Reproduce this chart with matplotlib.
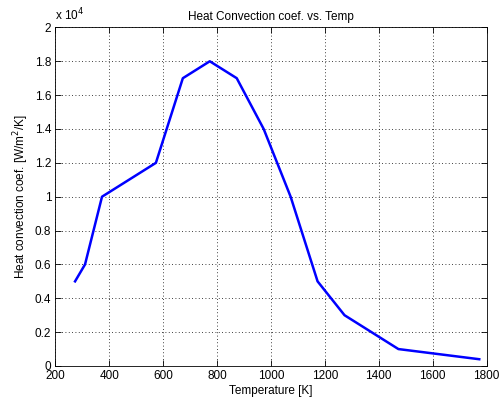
import matplotlib
matplotlib.use("Agg")
import matplotlib.pyplot as plt
import numpy as np

temperature = [273, 310, 373, 573, 673, 773, 873, 973, 1073, 1173, 1273, 1473, 1773]
h_conv = [5000, 6000, 10000, 12000, 17000, 18000, 17000, 14000, 10000, 5000, 3000, 1000, 400]
xticks = [200, 400, 600, 800, 1000, 1200, 1400, 1600, 1800]
yticks = [0, 0.2, 0.4, 0.6, 0.8, 1, 1.2, 1.4, 1.6, 1.8, 2]
ytick_labels = ['0', '0.2', '0.4', '0.6', '0.8', '1', '1.2', '1.4', '1.6', '1.8', '2']

plt.rcParams['font.family'] = ['Liberation Sans', 'DejaVu Sans']
fig = plt.figure(figsize=(4.99, 4.05), dpi=100)
ax = fig.add_axes([0.111, 0.0963, 0.864, 0.836])
ax.plot(temperature, np.array(h_conv) / 1e4, color='#0000ff', lw=1.8)
ax.set_xlim(200, 1800)
ax.set_ylim(0, 2)
ax.set_xticks(xticks)
ax.set_yticks(yticks)
ax.set_yticklabels(ytick_labels)
ax.tick_params(direction='in', top=True, right=True, labelsize=8.5, length=4, width=0.6, pad=3)
ax.grid(True, linestyle=(0, (1, 3)), color='black', lw=0.6)
for s in ax.spines.values():
    s.set_linewidth(0.6)
ax.set_title('Heat Convection coef. vs. Temp', fontsize=8.5, pad=5)
ax.set_xlabel('Temperature [K]', fontsize=8.5, labelpad=2)
ax.set_ylabel('Heat convection coef. [W/m$^2$/K]', fontsize=8.5, labelpad=3)
ax.text(0.0, 1.012, r'x 10$^4$', transform=ax.transAxes, fontsize=8.5, ha='left', va='bottom')
fig.savefig('out.png', dpi=100)
